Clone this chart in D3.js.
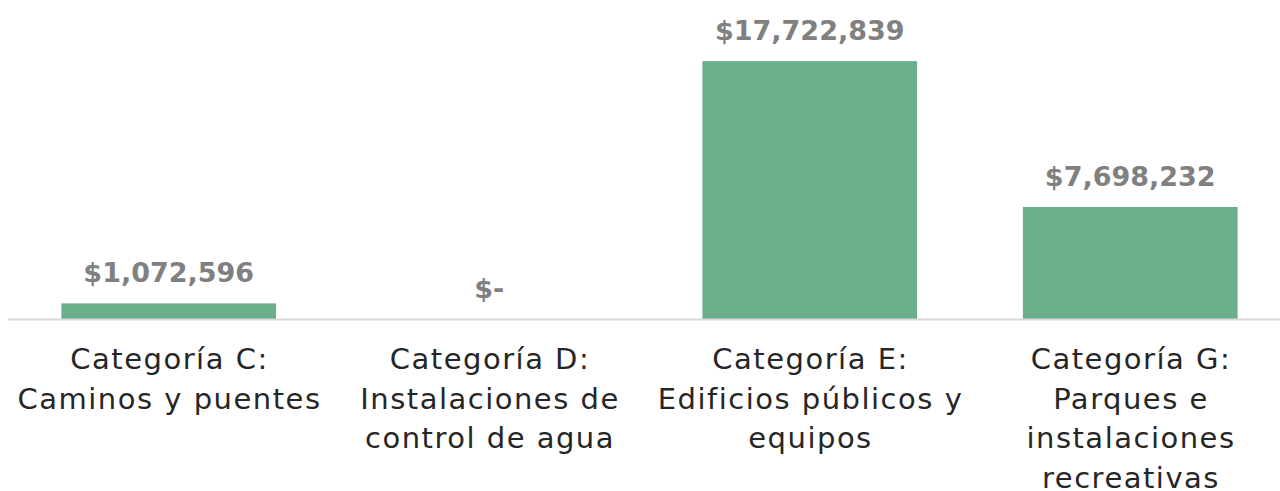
<!DOCTYPE html>
<html>
<head>
<meta charset="utf-8">
<script src="https://cdn.jsdelivr.net/npm/d3@7"></script>
<style>
  body { margin: 0; background: #fff; }
  svg { display: block; }
</style>
</head>
<body>
<svg class="chart"></svg>
<script>
// data
const categories = [
  `Categoría C:\nCaminos y puentes`,
  `Categoría D:\nInstalaciones de\ncontrol de agua`,
  `Categoría E:\nEdificios públicos y\nequipos`,
  `Categoría G:\nParques e\ninstalaciones\nrecreativas`
];
const amounts = [1072596, 0, 17722839, 7698232];

const width = 1280;
const height = 491;
const baseY = 319;

const svg = d3.select(`.chart`)
  .attr(`width`, width)
  .attr(`height`, height);

const x = d3.scaleBand()
  .domain(categories)
  .range([8.5, 1290.5])
  .paddingInner(0.33)
  .paddingOuter(0.165);

const y = d3.scaleLinear()
  .domain([0, 20000000])
  .range([baseY, 28]);

const fmt = v => v === 0 ? `$-` : `$` + d3.format(`,`)(v);

// bars
svg.append(`g`)
  .selectAll(`rect`)
  .data(amounts)
  .enter().append(`rect`)
    .attr(`x`, (d, i) => x(categories[i]))
    .attr(`y`, d => y(d))
    .attr(`width`, x.bandwidth())
    .attr(`height`, d => baseY - y(d))
    .attr(`fill`, `#6aae8b`);

// baseline
svg.append(`line`)
  .attr(`x1`, 8)
  .attr(`x2`, width)
  .attr(`y1`, baseY + 0.5)
  .attr(`y2`, baseY + 0.5)
  .attr(`stroke`, `#d9d9d9`)
  .attr(`stroke-width`, 2);

// value labels
svg.append(`g`)
  .selectAll(`text`)
  .data(amounts)
  .enter().append(`text`)
    .attr(`x`, (d, i) => x(categories[i]) + x.bandwidth() / 2)
    .attr(`y`, d => y(d) - 21)
    .attr(`text-anchor`, `middle`)
    .style(`font-family`, `"DejaVu Sans", sans-serif`)
    .style(`font-weight`, `bold`)
    .style(`font-size`, `27px`)
    .style(`fill`, `#808080`)
    .text(d => fmt(d));

// category labels
const xAxis = svg.append(`g`)
  .attr(`transform`, `translate(0,${baseY})`)
  .call(d3.axisBottom(x).tickSize(0).tickFormat(``));
xAxis.select(`.domain`).remove();

xAxis.selectAll(`.tick`).each(function(d) {
  const t = d3.select(this).append(`text`)
    .attr(`text-anchor`, `middle`)
    .style(`font-family`, `"DejaVu Sans", sans-serif`)
    .style(`font-size`, `29px`)
    .style(`letter-spacing`, `1.5px`)
    .style(`fill`, `#262626`);
  d.split(`\n`).forEach((line, k) => {
    t.append(`tspan`)
      .attr(`x`, 0.75)
      .attr(`y`, 50 + k * 39.5)
      .text(line);
  });
});
</script>
</body>
</html>
